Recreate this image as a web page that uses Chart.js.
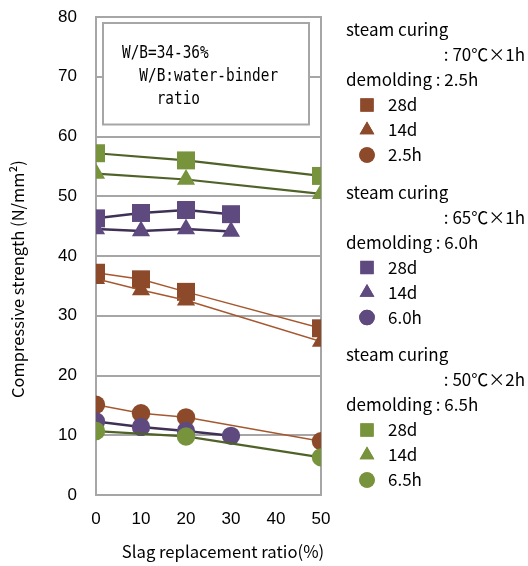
<!DOCTYPE html>
<html><head><meta charset="utf-8">
<script src="https://cdn.jsdelivr.net/npm/chart.js@4"></script>
<style>html,body{margin:0;padding:0;background:#fff}#wrap{width:528px;height:566px;position:relative}</style>
</head><body><div id="wrap"><canvas id="c" width="528" height="566"></canvas></div>
<script>
// ---- data ----
const xTickStep = 10;
const yRange = [0, 80];
const x70 = [0, 10, 20, 50];
const s70_28d = [37.2, 36.1, 34.0, 27.9];
const s70_14d = [36.2, 34.3, 32.6, 25.7];
const s70_25h = [15.1, 13.7, 13.0, 9.0];
const x65 = [0, 10, 20, 30];
const s65_28d = [46.3, 47.2, 47.7, 47.0];
const s65_14d = [44.5, 44.2, 44.5, 44.1];
const s65_60h = [12.3, 11.4, 10.7, 9.9];
const x50 = [0, 20, 50];
const s50_28d = [57.2, 56.0, 53.4];
const s50_14d = [53.8, 52.8, 50.4];
const s50_65h = [10.7, 9.8, 6.3];
const legendGroups = [
  {head: 'steam curing', cond: ': 70℃×1h', demold: 'demolding : 2.5h', items: ['28d', '14d', '2.5h']},
  {head: 'steam curing', cond: ': 65℃×1h', demold: 'demolding : 6.0h', items: ['28d', '14d', '6.0h']},
  {head: 'steam curing', cond: ': 50℃×2h', demold: 'demolding : 6.5h', items: ['28d', '14d', '6.5h']}
];
const noteLines = ['W/B=34-36%', '  W/B:water-binder', '    ratio'];
const xTitle = 'Slag replacement ratio(%)';
const yTitle = 'Compressive strength (N/mm²)';

// ---- styles ----
const C = {
  brown: {m: '#8c4a2b', l: '#a5582f', w: 1.5},
  purple: {m: '#5f4a80', l: '#3f3155', w: 2.5},
  green: {m: '#77933c', l: '#4f6228', w: 2.2}
};
const shapes = [
  {style: 'rect', r: 12.7, lr: 9.4},
  {style: 'triangle', r: 10.5, lr: 8.5},
  {style: 'circle', r: 9.2, lr: 7.8}
];
function ds(xs, ys, col, k, order) {
  return {
    data: xs.map((x, i) => ({x: x, y: ys[i]})),
    pointStyle: shapes[k].style, pointRadius: shapes[k].r, pointHoverRadius: shapes[k].r,
    pointBackgroundColor: col.m, pointBorderColor: col.m, pointBorderWidth: 0,
    borderColor: col.l, borderWidth: col.w, tension: 0, fill: false, order: order
  };
}
const datasets = [
  ds(x70, s70_28d, C.brown, 0, 9), ds(x70, s70_14d, C.brown, 1, 8), ds(x70, s70_25h, C.brown, 2, 7),
  ds(x65, s65_28d, C.purple, 0, 6), ds(x65, s65_14d, C.purple, 1, 5), ds(x65, s65_60h, C.purple, 2, 4),
  ds(x50, s50_28d, C.green, 0, 3), ds(x50, s50_14d, C.green, 1, 2), ds(x50, s50_65h, C.green, 2, 1)
];
const groupCols = [C.brown, C.purple, C.green];
const GRID = '#a6a6a6';
const JP = '"Noto Sans CJK JP", "Noto Sans", sans-serif';

const deco = {
  id: 'deco',
  beforeDatasetsDraw(chart) {
    const {ctx, chartArea: a, scales} = chart;
    ctx.save();
    ctx.strokeStyle = GRID; ctx.lineWidth = 2;
    ctx.strokeRect(a.left, a.top, a.right - a.left, a.bottom - a.top);
    // note box
    const y60 = scales.y.getPixelForValue(60);
    const bx = a.left + 7, by = a.top + 6, bw = (a.right - 12) - bx, bh = (y60 - 12) - by;
    ctx.fillStyle = '#fff';
    ctx.fillRect(bx - 1, by - 1, bw + 2, bh + 2);
    ctx.strokeRect(bx, by, bw, bh);
    ctx.fillStyle = '#000';
    ctx.font = '18px "DejaVu Sans Mono", "Liberation Mono", monospace';
    ctx.textBaseline = 'middle'; ctx.textAlign = 'left';
    noteLines.forEach((t, i) => {
      ctx.save();
      ctx.translate(bx + 19, by + 30 + i * 23);
      ctx.scale(0.8, 1);
      ctx.fillText(t, 0, 0);
      ctx.restore();
    });
    ctx.restore();
  },
  afterDraw(chart) {
    const {ctx, chartArea: a} = chart;
    ctx.save();
    ctx.fillStyle = '#000';
    ctx.textBaseline = 'middle';
    // axis titles
    ctx.font = '16.7px ' + JP;
    ctx.textAlign = 'center';
    ctx.fillText(xTitle, 223, 552);
    ctx.save();
    ctx.font = '16.5px ' + JP;
    ctx.translate(18, 279); ctx.rotate(-Math.PI / 2);
    ctx.fillText(yTitle, 0, 0);
    ctx.restore();
    // legend
    const lx = a.right + 25;
    let y = 30;
    legendGroups.forEach((g, gi) => {
      ctx.font = '17px ' + JP;
      ctx.textAlign = 'left';
      ctx.fillText(g.head, lx, y);
      ctx.textAlign = 'right';
      ctx.fillText(g.cond, 525, y + 25);
      ctx.textAlign = 'left';
      ctx.fillText(g.demold, lx, y + 50);
      g.items.forEach((it, k) => {
        const yy = y + 75 + k * 25;
        ctx.fillStyle = groupCols[gi].m;
        Chart.helpers.drawPoint(ctx, {pointStyle: shapes[k].style, radius: shapes[k].lr, rotation: 0, borderWidth: 0}, lx + 21, yy);
        ctx.fill();
        ctx.fillStyle = '#000';
        ctx.fillText(it, lx + 42, yy);
      });
      y += 162.5;
    });
    ctx.restore();
  }
};

new Chart(document.getElementById('c'), {
  type: 'line',
  data: {datasets: datasets},
  options: {
    responsive: false, animation: false, devicePixelRatio: 1,
    layout: {padding: {left: 0, top: 17, right: 207, bottom: 0}},
    plugins: {legend: {display: false}, tooltip: {enabled: false}},
    scales: {
      x: {
        type: 'linear', min: 0, max: 50,
        ticks: {stepSize: xTickStep, color: '#000', font: {family: '"Liberation Sans", Arial, sans-serif', size: 17}, padding: 14, maxRotation: 0},
        grid: {display: false, drawTicks: false},
        border: {display: true, color: GRID, width: 2},
        afterFit(s) { s.height = 71; }
      },
      y: {
        min: yRange[0], max: yRange[1],
        ticks: {stepSize: 10, color: '#000', font: {family: '"Liberation Sans", Arial, sans-serif', size: 17}, padding: 0},
        grid: {color: GRID, lineWidth: 2, drawTicks: true, tickLength: 19, tickColor: 'rgba(0,0,0,0)'},
        border: {display: true, color: GRID, width: 2},
        afterFit(s) { s.width = 96; }
      }
    }
  },
  plugins: [deco]
});
</script></body></html>
